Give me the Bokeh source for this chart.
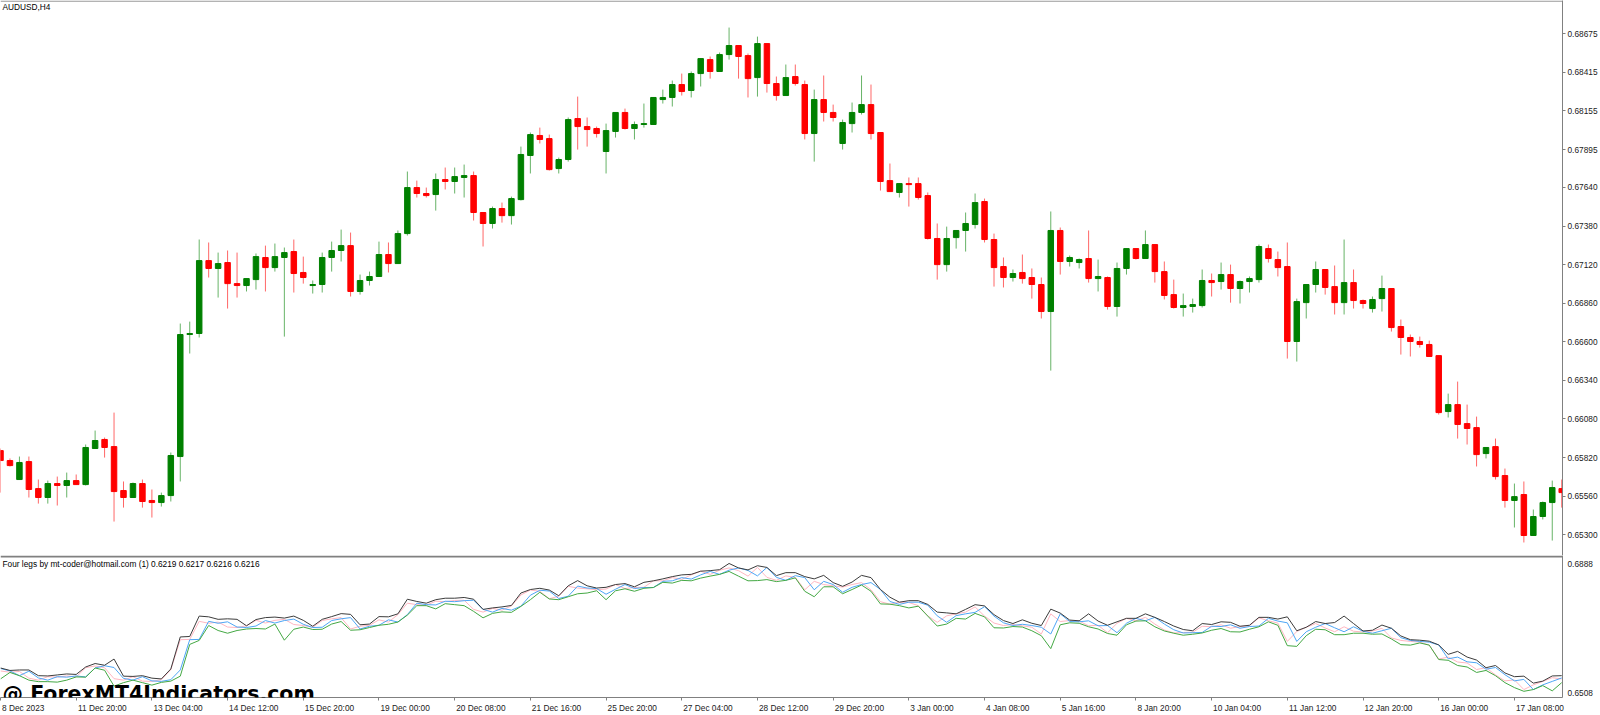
from bokeh.plotting import figure
from bokeh.models import ColumnDataSource, Range1d, FixedTicker, NumeralTickFormatter, Label, Span
from bokeh.layouts import column
from bokeh.embed import file_html
from bokeh.resources import INLINE

# ---------------- data (AUDUSD H4) ----------------
open_prices = [
    0.65867, 0.65800, 0.65672, 0.65793, 0.65611, 0.65551, 0.65645, 0.65632, 0.65665, 0.65638,
    0.65881, 0.65942, 0.65894, 0.65598, 0.65551, 0.65645, 0.65531, 0.65517, 0.65564, 0.65827,
    0.66649, 0.66656, 0.67147, 0.67094, 0.67134, 0.66992, 0.66979, 0.67019, 0.67168, 0.67100,
    0.67168, 0.67208, 0.67067, 0.66979, 0.66986, 0.67168, 0.67215, 0.67248, 0.66939, 0.67013,
    0.67040, 0.67188, 0.67127, 0.67329, 0.67639, 0.67599, 0.67592, 0.67693, 0.67680, 0.67707,
    0.67720, 0.67471, 0.67397, 0.67498, 0.67450, 0.67558, 0.67855, 0.67990, 0.67969, 0.67767,
    0.67828, 0.68104, 0.68050, 0.68037, 0.67882, 0.68017, 0.68145, 0.68037, 0.68064, 0.68064,
    0.68232, 0.68246, 0.68333, 0.68293, 0.68407, 0.68501, 0.68421, 0.68535, 0.68596, 0.68528,
    0.68380, 0.68609, 0.68340, 0.68259, 0.68387, 0.68333, 0.68003, 0.68232, 0.68145, 0.67936,
    0.68070, 0.68145, 0.68198, 0.68010, 0.67686, 0.67606, 0.67666, 0.67666, 0.67585, 0.67296,
    0.67120, 0.67302, 0.67350, 0.67390, 0.67545, 0.67289, 0.67107, 0.67033, 0.67067, 0.67033,
    0.66986, 0.66804, 0.67350, 0.67141, 0.67134, 0.67161, 0.67026, 0.67033, 0.66838, 0.67094,
    0.67228, 0.67161, 0.67255, 0.67073, 0.66918, 0.66831, 0.66838, 0.66844, 0.67013, 0.67006,
    0.67053, 0.66959, 0.67006, 0.67019, 0.67228, 0.67154, 0.67107, 0.66602, 0.66864, 0.66986,
    0.67087, 0.66972, 0.66864, 0.66999, 0.66878, 0.66824, 0.66891, 0.66959, 0.66703, 0.66629,
    0.66602, 0.66582, 0.66507, 0.66130, 0.66177, 0.66049, 0.66022, 0.65847, 0.65894, 0.65699,
    0.65531, 0.65571, 0.65295, 0.65423, 0.65517, 0.65611,
]
high_prices = [
    0.65881, 0.65814, 0.65827, 0.65827, 0.65672, 0.65665, 0.65692, 0.65719, 0.65706, 0.65908,
    0.66002, 0.65955, 0.66123, 0.65659, 0.65652, 0.65672, 0.65605, 0.65584, 0.65854, 0.66723,
    0.66736, 0.67289, 0.67269, 0.67201, 0.67215, 0.67201, 0.67026, 0.67195, 0.67248, 0.67262,
    0.67235, 0.67289, 0.67174, 0.67013, 0.67201, 0.67275, 0.67356, 0.67336, 0.67053, 0.67073,
    0.67275, 0.67269, 0.67350, 0.67747, 0.67686, 0.67639, 0.67734, 0.67774, 0.67774, 0.67794,
    0.67747, 0.67471, 0.67511, 0.67538, 0.67578, 0.67915, 0.68010, 0.68043, 0.67996, 0.67841,
    0.68111, 0.68252, 0.68111, 0.68050, 0.68070, 0.68145, 0.68171, 0.68084, 0.68205, 0.68246,
    0.68299, 0.68360, 0.68407, 0.68421, 0.68508, 0.68522, 0.68549, 0.68717, 0.68596, 0.68542,
    0.68656, 0.68609, 0.68387, 0.68468, 0.68468, 0.68360, 0.68299, 0.68394, 0.68198, 0.68097,
    0.68212, 0.68394, 0.68333, 0.68010, 0.67801, 0.67666, 0.67707, 0.67707, 0.67606, 0.67397,
    0.67376, 0.67350, 0.67471, 0.67599, 0.67565, 0.67329, 0.67168, 0.67087, 0.67188, 0.67094,
    0.67033, 0.67478, 0.67370, 0.67181, 0.67161, 0.67350, 0.67154, 0.67040, 0.67134, 0.67228,
    0.67228, 0.67350, 0.67255, 0.67141, 0.67019, 0.66925, 0.66891, 0.67087, 0.67060, 0.67134,
    0.67120, 0.67013, 0.67040, 0.67255, 0.67255, 0.67208, 0.67269, 0.66891, 0.66986, 0.67141,
    0.67087, 0.67114, 0.67289, 0.67087, 0.66885, 0.66905, 0.67046, 0.66959, 0.66750, 0.66649,
    0.66635, 0.66608, 0.66507, 0.66251, 0.66332, 0.66177, 0.66096, 0.65888, 0.65948, 0.65746,
    0.65645, 0.65659, 0.65470, 0.65524, 0.65665, 0.65672,
]
low_prices = [
    0.65584, 0.65760, 0.65672, 0.65551, 0.65510, 0.65510, 0.65497, 0.65551, 0.65638, 0.65632,
    0.65881, 0.65820, 0.65389, 0.65483, 0.65551, 0.65483, 0.65416, 0.65490, 0.65524, 0.65659,
    0.66521, 0.66629, 0.67033, 0.66898, 0.66824, 0.66898, 0.66939, 0.66952, 0.66939, 0.67073,
    0.66635, 0.66932, 0.66992, 0.66925, 0.66932, 0.67073, 0.67141, 0.66905, 0.66918, 0.66979,
    0.67040, 0.67067, 0.67127, 0.67316, 0.67572, 0.67572, 0.67484, 0.67626, 0.67599, 0.67572,
    0.67417, 0.67242, 0.67363, 0.67403, 0.67390, 0.67552, 0.67734, 0.67936, 0.67754, 0.67734,
    0.67814, 0.67895, 0.67915, 0.67976, 0.67734, 0.67976, 0.68030, 0.67963, 0.68043, 0.68064,
    0.68205, 0.68185, 0.68259, 0.68246, 0.68320, 0.68373, 0.68421, 0.68501, 0.68373, 0.68246,
    0.68252, 0.68279, 0.68225, 0.68259, 0.68326, 0.67963, 0.67814, 0.68084, 0.68084, 0.67895,
    0.68010, 0.68131, 0.67963, 0.67619, 0.67612, 0.67572, 0.67511, 0.67558, 0.67289, 0.67019,
    0.67073, 0.67228, 0.67208, 0.67363, 0.67269, 0.66972, 0.66966, 0.67006, 0.66992, 0.66891,
    0.66757, 0.66406, 0.67053, 0.67107, 0.67094, 0.66999, 0.66939, 0.66817, 0.66770, 0.67053,
    0.67154, 0.67161, 0.66999, 0.66885, 0.66824, 0.66770, 0.66797, 0.66831, 0.66905, 0.66952,
    0.66864, 0.66858, 0.66932, 0.66999, 0.67134, 0.67040, 0.66487, 0.66467, 0.66757, 0.66932,
    0.66918, 0.66784, 0.66784, 0.66824, 0.66824, 0.66797, 0.66804, 0.66669, 0.66514, 0.66501,
    0.66561, 0.66501, 0.66110, 0.66090, 0.65948, 0.65908, 0.65760, 0.65814, 0.65672, 0.65483,
    0.65349, 0.65248, 0.65295, 0.65403, 0.65261, 0.65483,
]
close_prices = [
    0.65800, 0.65766, 0.65787, 0.65605, 0.65551, 0.65645, 0.65632, 0.65665, 0.65638, 0.65888,
    0.65935, 0.65888, 0.65591, 0.65551, 0.65645, 0.65524, 0.65517, 0.65564, 0.65834, 0.66649,
    0.66656, 0.67147, 0.67094, 0.67127, 0.66992, 0.66979, 0.67026, 0.67174, 0.67100, 0.67174,
    0.67201, 0.67060, 0.67033, 0.66986, 0.67168, 0.67215, 0.67248, 0.66939, 0.67013, 0.67040,
    0.67188, 0.67127, 0.67329, 0.67639, 0.67599, 0.67585, 0.67693, 0.67680, 0.67713, 0.67720,
    0.67471, 0.67397, 0.67498, 0.67450, 0.67565, 0.67862, 0.67996, 0.67963, 0.67760, 0.67828,
    0.68097, 0.68050, 0.68030, 0.68003, 0.68023, 0.68145, 0.68037, 0.68064, 0.68070, 0.68246,
    0.68246, 0.68333, 0.68286, 0.68407, 0.68508, 0.68421, 0.68535, 0.68596, 0.68522, 0.68373,
    0.68609, 0.68340, 0.68259, 0.68380, 0.68340, 0.68003, 0.68232, 0.68145, 0.68111, 0.68077,
    0.68145, 0.68198, 0.68003, 0.67680, 0.67612, 0.67666, 0.67659, 0.67572, 0.67296, 0.67120,
    0.67296, 0.67350, 0.67397, 0.67538, 0.67289, 0.67100, 0.67033, 0.67060, 0.67026, 0.66986,
    0.66804, 0.67350, 0.67141, 0.67168, 0.67154, 0.67026, 0.67040, 0.66838, 0.67094, 0.67228,
    0.67161, 0.67255, 0.67073, 0.66912, 0.66831, 0.66844, 0.66851, 0.67013, 0.66999, 0.67053,
    0.66959, 0.67006, 0.67026, 0.67242, 0.67161, 0.67100, 0.66602, 0.66871, 0.66986, 0.67087,
    0.66966, 0.66864, 0.66999, 0.66878, 0.66858, 0.66885, 0.66959, 0.66696, 0.66629, 0.66602,
    0.66582, 0.66501, 0.66123, 0.66177, 0.66043, 0.66016, 0.65840, 0.65888, 0.65692, 0.65531,
    0.65557, 0.65295, 0.65423, 0.65517, 0.65618, 0.65584,
]

date_tick_bars = [0, 8, 16, 24, 32, 40, 48, 56, 64, 72, 80, 88, 96, 104, 112, 120, 128, 136, 144, 152, 160]
date_tick_labels = [
    "8 Dec 2023", "11 Dec 20:00", "13 Dec 04:00", "14 Dec 12:00", "15 Dec 20:00",
    "19 Dec 00:00", "20 Dec 08:00", "21 Dec 16:00", "25 Dec 20:00", "27 Dec 04:00",
    "28 Dec 12:00", "29 Dec 20:00", "3 Jan 00:00", "4 Jan 08:00", "5 Jan 16:00",
    "8 Jan 20:00", "10 Jan 04:00", "11 Jan 12:00", "12 Jan 20:00", "16 Jan 00:00",
    "17 Jan 08:00",
]
price_ticks = [0.65300, 0.65560, 0.65820, 0.66080, 0.66340, 0.66600, 0.66860,
               0.67120, 0.67380, 0.67640, 0.67895, 0.68155, 0.68415, 0.68675]
indicator_scale_labels = ["0.6888", "0.6508"]
indicator_scale_values = [0.6888, 0.6508]

chart_title = "AUDUSD,H4"
indicator_title = "Four legs by mt-coder@hotmail.com (1) 0.6219 0.6217 0.6216 0.6216"
watermark = "@ ForexMT4Indicators.com"

# ---------------- layout / style ----------------
W = 1600
MAIN_H = 555
IND_H = 160
IND_FRAME_H = 145
RIGHT_BORDER = 37
FRAME_W = W - RIGHT_BORDER
PPB = 9.468                      # pixels per bar
X_START = 0.0
X_END = X_START + FRAME_W / PPB
FONT = "Liberation Sans"
FS = "8.3px"
AXIS_GRAY = "#808080"
BULL = "#008000"
BEAR = "#ff0000"

n = len(open_prices)
idx = list(range(n))
colors = [BULL if c >= o else BEAR for o, c in zip(open_prices, close_prices)]
src = ColumnDataSource(dict(
    x=idx, o=open_prices, h=high_prices, l=low_prices, c=close_prices,
    top=[max(o, c) for o, c in zip(open_prices, close_prices)],
    bottom=[min(o, c) for o, c in zip(open_prices, close_prices)],
    color=colors,
))

x_range = Range1d(X_START, X_END)

# ---------------- main price pane ----------------
main_y0, main_y1 = 0.651603, 0.688993
main_scale = MAIN_H / (main_y1 - main_y0)
p = figure(width=W, height=MAIN_H, x_range=x_range, y_range=Range1d(main_y0, main_y1),
           output_backend="svg", toolbar_location=None,
           x_axis_location=None, y_axis_location="right",
           min_border_left=0, min_border_right=RIGHT_BORDER,
           min_border_top=0, min_border_bottom=0)
p.outline_line_color = None
p.grid.visible = False
p.background_fill_color = "white"
p.border_fill_color = "white"

p.add_layout(Span(location=main_y1 - 0.6 / main_scale, dimension="width",
                  line_color=AXIS_GRAY, line_width=1))

p.segment(x0="x", y0="l", x1="x", y1="h", source=src, line_color="color",
          line_width=1, line_alpha=0.6)
p.vbar(x="x", top="top", bottom="bottom", width=0.58, source=src,
       fill_color="color", line_color="color", line_width=1)

ya = p.yaxis[0]
ya.ticker = FixedTicker(ticks=price_ticks, minor_ticks=[])
ya.formatter = NumeralTickFormatter(format="0.00000")
ya.major_label_text_font = FONT
ya.major_label_text_font_size = FS
ya.major_label_text_color = "#1a1a1a"
ya.axis_line_color = AXIS_GRAY
ya.major_tick_line_color = AXIS_GRAY
ya.major_tick_out = 3
ya.major_tick_in = 0
ya.minor_tick_out = 0
ya.minor_tick_in = 0
ya.major_label_standoff = 2

p.add_layout(Label(x=X_START, y=main_y1, x_offset=2, y_offset=-1, text=chart_title,
                   text_font=FONT, text_font_size=FS, text_color="black",
                   text_baseline="top", text_align="left"))

# ---------------- indicator pane ----------------
# 0.6888 sits 2 px below the frame top (under the separator), 0.6508 at the frame bottom
ind_scale = (IND_FRAME_H - 2) / (indicator_scale_values[0] - indicator_scale_values[1])
ind_y0 = indicator_scale_values[1]
ind_y1 = indicator_scale_values[0] + 2.0 / ind_scale
q = figure(width=W, height=IND_H, x_range=x_range, y_range=Range1d(ind_y0, ind_y1),
           output_backend="svg", toolbar_location=None,
           x_axis_location="below", y_axis_location="right",
           min_border_left=0, min_border_right=RIGHT_BORDER,
           min_border_top=0, min_border_bottom=IND_H - IND_FRAME_H)
q.outline_line_color = None
q.grid.visible = False
q.background_fill_color = "white"
q.border_fill_color = "white"

q.line(idx, close_prices, line_color="#ffb6c1", line_width=1)
q.line(idx, open_prices, line_color="#4ea6f5", line_width=1)
q.line(idx, low_prices, line_color="#44a844", line_width=1)
q.line(idx, high_prices, line_color="#3c3c3c", line_width=1)

q.add_layout(Span(location=ind_y1 - 1.0 / ind_scale, dimension="width",
                  line_color=AXIS_GRAY, line_width=2))

# right scale of the indicator: labels sit just inside the top / bottom edges
top_tick = round(ind_y1 - 8.3 / ind_scale, 6)
bot_tick = round(ind_y0 + 5.0 / ind_scale, 6)
qa = q.yaxis[0]
qa.ticker = FixedTicker(ticks=[bot_tick, top_tick], minor_ticks=[])
qa.major_label_overrides = {bot_tick: indicator_scale_labels[1], top_tick: indicator_scale_labels[0]}
qa.major_label_text_font = FONT
qa.major_label_text_font_size = FS
qa.major_label_text_color = "#1a1a1a"
qa.axis_line_color = AXIS_GRAY
qa.major_tick_out = 0
qa.major_tick_in = 0
qa.minor_tick_out = 0
qa.minor_tick_in = 0
qa.major_label_standoff = 5

# date axis: MT4 labels start right of the tick, so centre each label half its width to the right
char_w = {"D": 0.722, "J": 0.5, "e": 0.556, "c": 0.5, "a": 0.556, "n": 0.556, " ": 0.278, ":": 0.278}
fs_px = 8.3
centers = []
for b, lab in zip(date_tick_bars, date_tick_labels):
    w = sum(char_w.get(ch, 0.556) for ch in lab) * fs_px
    centers.append(round(b + (w / 2 + 1.5) / PPB, 3))
xa = q.xaxis[0]
xa.ticker = FixedTicker(ticks=centers, minor_ticks=date_tick_bars)
xa.major_label_overrides = {c: lab for c, lab in zip(centers, date_tick_labels)}
xa.major_label_text_font = FONT
xa.major_label_text_font_size = FS
xa.major_label_text_color = "#1a1a1a"
xa.axis_line_color = AXIS_GRAY
xa.major_tick_out = 0
xa.major_tick_in = 0
xa.minor_tick_out = 3
xa.minor_tick_in = 0
xa.minor_tick_line_color = AXIS_GRAY
xa.major_label_standoff = 2

q.add_layout(Label(x=X_START, y=ind_y1 - 9.0 / ind_scale, x_offset=2, text=indicator_title,
                   text_font=FONT, text_font_size=FS, text_color="black",
                   text_baseline="middle", text_align="left"))
q.add_layout(Label(x=X_START, y=ind_y0, x_offset=2, y_offset=4, text=watermark,
                   text_font="DejaVu Sans", text_font_style="bold", text_font_size="20.5px",
                   text_color="black", text_baseline="alphabetic", text_align="left"))

layout = column(p, q, spacing=0)
open("out.html", "w").write(file_html(layout, INLINE, title="AUDUSD,H4"))
